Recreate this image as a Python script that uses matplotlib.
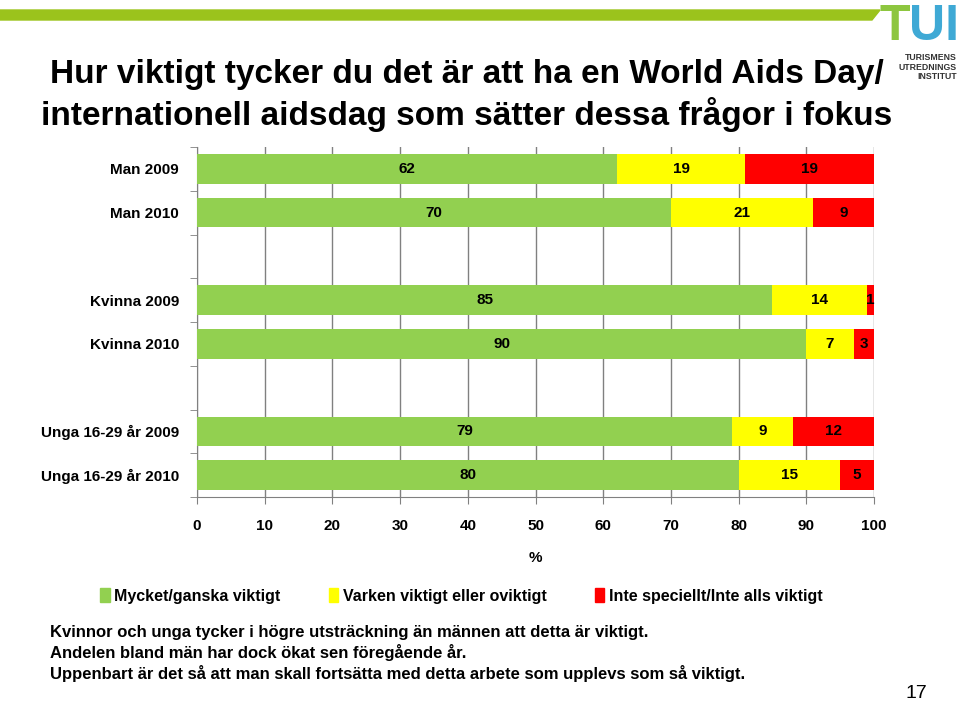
import numpy as np
import matplotlib.pyplot as plt
from matplotlib.patches import Polygon, Patch

# Survey data (%), rows top to bottom
groups = ['Man 2009', 'Man 2010', 'Kvinna 2009', 'Kvinna 2010',
          'Unga 16-29 år 2009', 'Unga 16-29 år 2010']
rows = [0, 1, 3, 4, 6, 7]  # blank rows between the groups
important = [62, 70, 85, 90, 79, 80]
neither = [19, 21, 14, 7, 9, 15]
not_important = [19, 9, 1, 3, 12, 5]
series_names = ['Mycket/ganska viktigt', 'Varken viktigt eller oviktigt',
                'Inte speciellt/Inte alls viktigt']
colors = ['#92D050', '#FFFF00', '#FF0000']
xticks = list(range(0, 101, 10))

title = ('Hur viktigt tycker du det är att ha en World Aids Day/\n'
         'internationell aidsdag som sätter dessa frågor i fokus')
comment = ['Kvinnor och unga tycker i högre utsträckning än männen att detta är viktigt.',
           'Andelen bland män har dock ökat sen föregående år.',
           'Uppenbart är det så att man skall fortsätta med detta arbete som upplevs som så viktigt.']

plt.rcParams['font.family'] = ['Liberation Sans', 'DejaVu Sans']

fig = plt.figure(figsize=(9.59, 7.02), dpi=100)
ax = fig.add_axes([197 / 959, 1 - 497 / 702, 677 / 959, 350 / 702])

left = np.zeros(len(rows))
for vals, col in zip([important, neither, not_important], colors):
    bars = ax.barh(rows, vals, left=left, height=0.67, color=col, zorder=3)
    for b, v in zip(bars, vals):
        ax.text(b.get_x() + b.get_width() / 2, b.get_y() + b.get_height() / 2, str(v),
                ha='center', va='center', fontsize=11, fontweight='bold', zorder=4)
    left += np.array(vals)

ax.set_xlim(0, 100)
ax.set_ylim(7.5, -0.5)
ax.set_xticks(xticks)
ax.set_xticklabels([str(t) for t in xticks], fontsize=11, fontweight='bold')
ax.tick_params(axis='x', length=5, color='#808080', pad=11)
ax.set_yticks(rows)
ax.set_yticklabels(groups, fontsize=11, fontweight='bold')
ax.tick_params(axis='y', length=0, pad=13)
ax.set_yticks(np.arange(-0.5, 8, 1), minor=True)
ax.tick_params(axis='y', which='minor', length=5, color='#808080')
ax.xaxis.grid(True, color='#808080', lw=1, zorder=0)
for s in ['top', 'right']:
    ax.spines[s].set_visible(False)
for s in ['left', 'bottom']:
    ax.spines[s].set_color('#808080')
ax.set_xlabel('%', fontsize=11, fontweight='bold', labelpad=13)

handles = [Patch(color=c) for c in colors]
fig.legend(handles, series_names, loc='center', bbox_to_anchor=(0.481, 1 - 596 / 702),
           ncol=3, frameon=False, handlelength=0.6, handleheight=0.9, handletextpad=0.3,
           columnspacing=3.0, prop={'weight': 'bold', 'size': 11.5})

# header stripe and logo
fig.patches.append(Polygon([[0, 1 - 10 / 702], [880 / 959, 1 - 10 / 702],
                            [872 / 959, 1 - 20 / 702], [0, 1 - 20 / 702]],
                           closed=True, transform=fig.transFigure, color='#9BC31C'))
fig.text(880 / 959, 1 - 27 / 702, 'T', fontsize=36, fontweight='bold', color='#8DC63F',
         va='center', ha='left')
fig.text(909 / 959, 1 - 27 / 702, 'UI', fontsize=36, fontweight='bold', color='#3FA9D5',
         va='center', ha='left')
fig.text(957 / 959, 1 - 67 / 702, 'TURISMENS\nUTREDNINGS\nINSTITUT', fontsize=6.3,
         fontweight='bold', color='#333333', ha='right', va='center', linespacing=1.1)

fig.text(467 / 959, 1 - 95 / 702, title, ha='center', va='center', fontsize=24,
         fontweight='bold', linespacing=1.25)

for i, line in enumerate(comment):
    fig.text(50 / 959, 1 - (632 + 20.5 * i) / 702, line, ha='left', va='center',
             fontsize=12, fontweight='bold')
fig.text(916 / 959, 1 - 693 / 702, '17', fontsize=14, ha='center', va='center')

fig.savefig('out.png', dpi=100)
